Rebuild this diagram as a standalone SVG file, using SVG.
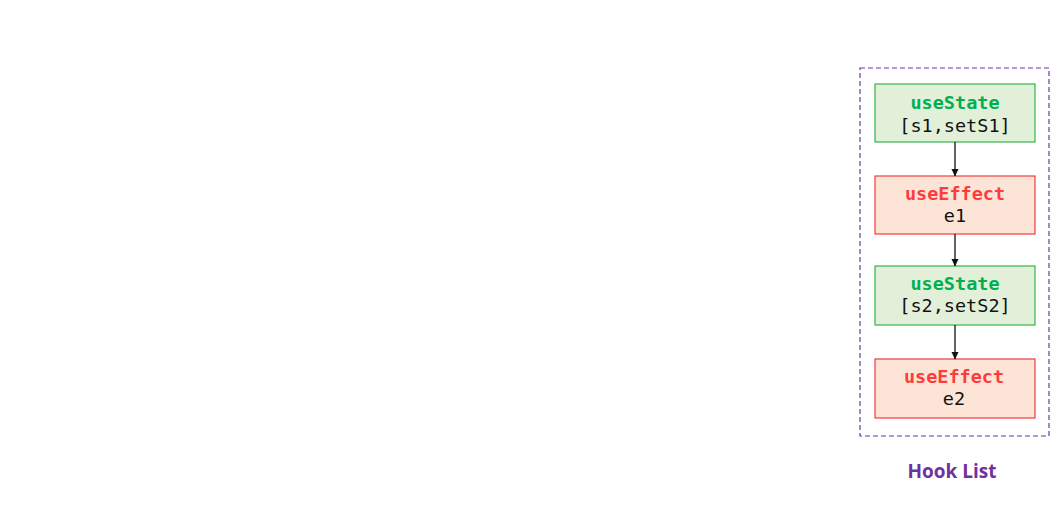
<svg xmlns="http://www.w3.org/2000/svg" width="1064" height="519" viewBox="0 0 1064 519">
<style>
.state rect{fill:#e2f0d9;stroke:#33b54a;stroke-width:1.2}
.effect rect{fill:#fce4d6;stroke:#f03c3c;stroke-width:1.2}
.t{font-family:"DejaVu Sans Mono","Liberation Mono",monospace;font-size:18.5px;text-anchor:middle}
.ts{fill:#00b050;font-weight:bold}
.te{fill:#ff3b3b;font-weight:bold}
.tv{fill:#111}
.conn line{stroke:#111;stroke-width:1.3;marker-end:url(#ah)}
</style>
<defs>
<marker id="ah" markerWidth="8" markerHeight="8" refX="7" refY="4" orient="auto" markerUnits="userSpaceOnUse">
<path d="M0,0.5 L7.5,4 L0,7.5 Z" fill="#111"/>
</marker>
</defs>
<rect width="1064" height="519" fill="#fff"/>
<g id="hook-list">
<rect x="860" y="68" width="189" height="368" fill="none" stroke="#6a35a8" stroke-width="1.2" stroke-dasharray="5,3"/>
<text x="952" y="478" font-family="'Open Sans','Liberation Sans',sans-serif" font-weight="bold" font-size="19" fill="#7030a0" text-anchor="middle">Hook List</text>
</g>
<g id="node-state1" class="state">
<rect x="875" y="84" width="160" height="58"/>
<text class="t ts" x="955" y="109">useState</text>
<text class="t tv" x="955" y="132">[s1,setS1]</text>
</g>
<g id="node-effect1" class="effect">
<rect x="875" y="176" width="160" height="58"/>
<text class="t te" x="955" y="200">useEffect</text>
<text class="t tv" x="955" y="222">e1</text>
</g>
<g id="node-state2" class="state">
<rect x="875" y="266" width="160" height="59"/>
<text class="t ts" x="955" y="290">useState</text>
<text class="t tv" x="955" y="312">[s2,setS2]</text>
</g>
<g id="node-effect2" class="effect">
<rect x="875" y="359" width="160" height="59"/>
<text class="t te" x="954" y="383">useEffect</text>
<text class="t tv" x="954" y="405">e2</text>
</g>
<g id="connectors" class="conn">
<line x1="955" y1="142" x2="955" y2="176"/>
<line x1="955" y1="234" x2="955" y2="266"/>
<line x1="955" y1="325" x2="955" y2="359"/>
</g>
</svg>
